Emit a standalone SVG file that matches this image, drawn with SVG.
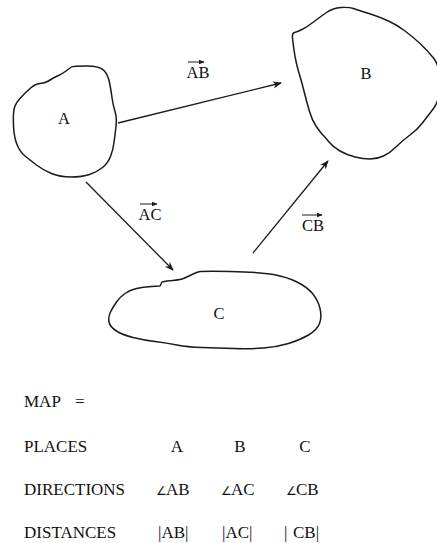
<svg xmlns="http://www.w3.org/2000/svg" width="437" height="543" viewBox="0 0 437 543">
  <style>
    .blob { fill: none; stroke: #1a1a1a; stroke-width: 1.5; stroke-linejoin: round; }
    .conn { fill: none; stroke: #1a1a1a; stroke-width: 1.3; }
    .vec { fill: none; stroke: #1a1a1a; stroke-width: 1; }
    text { font-family: "Liberation Serif", "Times New Roman", serif; fill: #111; }
    .lbl { font-size: 16.5px; text-anchor: middle; }
    .row { font-size: 17px; }
    .mid { text-anchor: middle; }
    .ang { font-family: "DejaVu Sans", sans-serif; font-size: 12px; }
  </style>
  <defs>
    <marker id="head" viewBox="0 0 10 10" refX="9" refY="5" markerWidth="9" markerHeight="9" markerUnits="userSpaceOnUse" orient="auto">
      <path d="M0,1 L10,5 L0,9 L3,5 Z" fill="#1a1a1a"/>
    </marker>
    <marker id="vhead" viewBox="0 0 10 10" refX="9" refY="5" markerWidth="6" markerHeight="6" markerUnits="userSpaceOnUse" orient="auto">
      <path d="M0,1 L10,5 L0,9 Z" fill="#1a1a1a"/>
    </marker>
  </defs>

  <!-- place A -->
  <g id="node-A">
    <path class="blob" d="M86.5,66 Q100,66 104,70.5 Q108,75 109.5,82.5 Q111,90 112,97.5 Q113,105 115,111.5 Q117,118 116,126.5 Q115,135 114,142.5 Q113,150 110.5,156.5 Q108,163 102.5,167.5 Q97,172 89.5,174.5 Q82,177 71,177 Q60,177 51.5,173.5 Q43,170 36.5,165 Q30,160 25,156 Q20,152 17,144.5 Q14,137 13.5,126 Q13,115 14,109.5 Q15,104 20,98.5 Q25,93 30,88.5 Q35,84 40,83.5 Q45,83 47.5,81.5 Q50,80 52.5,78.5 Q55,77 58.5,75.5 Q62,74 66,71 Q70,68 71.5,67 Q73,66 86.5,66 Z"/>
    <text class="lbl" x="64" y="124">A</text>
  </g>

  <!-- place B (runs past the right edge) -->
  <g id="node-B">
    <path class="blob" d="M353.5,8.5 Q358,10 369,13.5 Q380,17 388.5,21 Q397,25 405,31 Q413,37 420,43.5 Q427,50 433.5,58 Q440,66 440,83 Q440,100 433.5,108.5 Q427,117 422,123.5 Q417,130 410,135 Q403,140 396.5,146.5 Q390,153 383.5,156 Q377,159 370,159 Q363,159 355,157 Q347,155 340,151 Q333,147 329,142 Q325,137 322.5,134.5 Q320,132 316,126 Q312,120 309.5,111.5 Q307,103 304.5,93 Q302,83 300,76.5 Q298,70 296.5,63.5 Q295,57 294,50 Q293,43 292.5,38 Q292,33 294.5,32.5 Q297,32 302,29.5 Q307,27 313.5,22 Q320,17 326.5,12.5 Q333,8 341,7.5 Q349,7 353.5,8.5 Z"/>
    <text class="lbl" x="366" y="79">B</text>
  </g>

  <!-- place C -->
  <g id="node-C">
    <path class="blob" d="M230,271.5 Q260,272 273.5,274.5 Q287,277 297,282 Q307,287 312.5,293.5 Q318,300 320,308.5 Q322,317 319.5,323.5 Q317,330 308.5,335 Q300,340 288.5,343.5 Q277,347 263.5,348 Q250,349 233.5,348.5 Q217,348 202,347.5 Q187,347 177,345 Q167,343 155,341.5 Q143,340 133,337.5 Q123,335 116.5,331 Q110,327 109,322 Q108,317 110.5,312 Q113,307 116.5,302 Q120,297 125,293.5 Q130,290 136.5,288.5 Q143,287 151.5,286.5 L160,286 L162,282 L167,281 Q180,280 183.5,278.5 Q187,277 192,274.5 Q197,272 200,271.5 Q210,271 230,271.5 Z"/>
    <text class="lbl" x="219" y="319">C</text>
  </g>

  <!-- directed connectors between places -->
  <g id="connectors">
    <line class="conn" x1="118" y1="123" x2="281" y2="83" marker-end="url(#head)"/>
    <line class="conn" x1="86" y1="182" x2="173" y2="270" marker-end="url(#head)"/>
    <line class="conn" x1="253" y1="253" x2="328" y2="161" marker-end="url(#head)"/>

    <line class="vec" x1="188" y1="62" x2="204" y2="62" marker-end="url(#vhead)"/>
    <text class="lbl" x="198" y="78">AB</text>
    <line class="vec" x1="140" y1="204" x2="157" y2="204" marker-end="url(#vhead)"/>
    <text class="lbl" x="150" y="220">AC</text>
    <line class="vec" x1="302" y1="215" x2="322" y2="215" marker-end="url(#vhead)"/>
    <text class="lbl" x="313" y="231">CB</text>
  </g>

  <!-- map table -->
  <g id="table">
    <text class="row" x="24" y="407">MAP</text>
    <text class="row" x="75" y="407">=</text>

    <text class="row" x="24" y="452">PLACES</text>
    <text class="row mid" x="177" y="452">A</text>
    <text class="row mid" x="240" y="452">B</text>
    <text class="row mid" x="305" y="452">C</text>

    <text class="row" x="24" y="495">DIRECTIONS</text>
    <text class="row" x="156" y="495"><tspan class="ang">∠</tspan><tspan x="166">AB</tspan></text>
    <text class="row" x="221" y="495"><tspan class="ang">∠</tspan><tspan x="231">AC</tspan></text>
    <text class="row" x="286" y="495"><tspan class="ang">∠</tspan><tspan x="296">CB</tspan></text>

    <text class="row" x="24" y="538">DISTANCES</text>
    <text class="row" x="158" y="538">|AB|</text>
    <text class="row" x="222" y="538">|AC|</text>
    <text class="row" x="284" y="538">|<tspan x="293">CB|</tspan></text>
  </g>
</svg>
